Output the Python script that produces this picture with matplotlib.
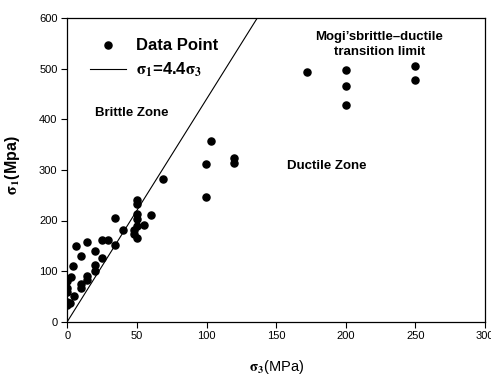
import numpy as np
import matplotlib.pyplot as plt

plt.rcParams['font.family'] = ['Liberation Sans', 'DejaVu Sans']
plt.rcParams['mathtext.fontset'] = 'stix'

# confining pressure sigma3 (MPa) and peak strength sigma1 (MPa)
sigma3 = [0, 0, 2, 0, 0, 0, 2.4, 4.5, 4.3, 6.5, 9.6, 9.6, 9.6,
          14.5, 14.5, 14.5, 19.7, 19.7, 19.7, 24.7, 24.7, 29.5,
          34.3, 34.3, 39.7, 48, 48, 50, 50, 50, 50, 50, 50, 55, 60,
          68.5, 99.6, 99.6, 103, 119.8, 119.8,
          172, 200, 200, 200, 250, 250]
sigma1 = [33, 38, 36, 59, 66, 81, 89, 51, 110, 149, 130, 74, 66,
          158, 90, 82, 140, 112, 101, 162, 125, 162,
          204, 151, 181, 181, 173, 166, 240, 232, 213, 203, 190, 191, 210,
          282, 246, 311, 358, 324, 314,
          494, 498, 465, 429, 505, 477]

ratio = 4.4
line_x = np.array([0, 600 / ratio])

fig = plt.figure(figsize=(4.91, 3.78), dpi=100)
ax = fig.add_axes([0.137, 0.149, 0.851, 0.803])

ax.scatter(sigma3, sigma1, s=26, color='black', zorder=3, label='Data Point')
ax.plot(line_x, ratio * line_x, color='black', lw=0.8,
        label=r'$\mathbf{\sigma_1}$=4.4$\mathbf{\sigma_3}$')

ax.set_xlim(0, 300)
ax.set_ylim(0, 600)
ax.set_xticks(range(0, 301, 50))
ax.set_yticks(range(0, 601, 100))
ax.tick_params(direction='out', length=4, width=0.8, labelsize=8, pad=3,
               top=False, right=False)
for sp in ax.spines.values():
    sp.set_linewidth(0.9)

ax.set_xlabel(r'$\mathbf{\sigma_3}$(MPa)', fontsize=10.5)
ax.xaxis.set_label_coords(0.5, -0.12)
ax.set_ylabel(r'$\mathbf{\sigma_1}$(Mpa)', fontsize=11.5, fontweight='bold')
ax.yaxis.set_label_coords(-0.108, 0.515)

leg = ax.legend(loc='upper left', bbox_to_anchor=(0.054, 0.935), frameon=False,
                borderpad=0, borderaxespad=0, handlelength=2.2,
                handletextpad=0.6, labelspacing=0.45,
                prop={'weight': 'bold', 'size': 12})

ax.text(20, 412, 'Brittle Zone', fontsize=9.5, fontweight='bold', va='center')
ax.text(158, 307, 'Ductile Zone', fontsize=9.5, fontweight='bold', va='center')
ax.text(224, 548, "Mogi\u2019sbrittle\u2013ductile\ntransition limit",
        fontsize=9.5, fontweight='bold', ha='center', va='center',
        linespacing=1.3)

fig.savefig('out.png', dpi=100)
